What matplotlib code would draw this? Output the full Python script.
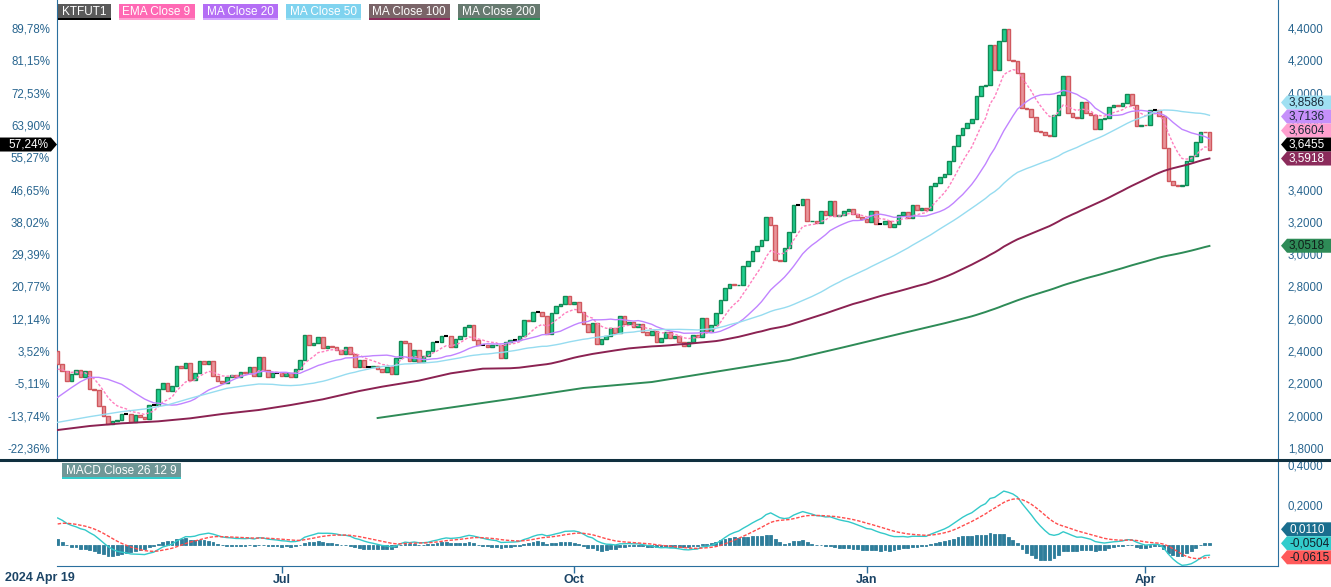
import numpy as np
import matplotlib
matplotlib.use("Agg")
import matplotlib.pyplot as plt
from matplotlib.patches import Polygon, Rectangle
from matplotlib.lines import Line2D
from matplotlib.transforms import IdentityTransform

plt.rcParams['font.family'] = ['Liberation Sans', 'DejaVu Sans']

W, H = 1331, 587

# daily closes, each candle opens at the previous close
first_open = 2.40
closes = [
    2.3185, 2.2761, 2.2142, 2.2555, 2.2803, 2.2369, 2.2741, 2.1626, 2.1564, 2.0574,
    1.9996, 1.9459, 1.9645, 1.9707, 2.0078, 2.0078, 1.9604, 2.0016, 1.9893, 1.9769,
    2.0636, 2.0636, 2.1668, 2.1998, 2.1502, 2.1812, 2.3050, 2.2927, 2.3236, 2.2184,
    2.2617, 2.3360, 2.3174, 2.3360, 2.2452, 2.2122, 2.1998, 2.2369, 2.2534, 2.2369,
    2.2679, 2.2638, 2.2989, 2.2431, 2.3608, 2.2823, 2.2369, 2.2638, 2.2638, 2.2431,
    2.2638, 2.2369, 2.2865, 2.3422, 2.4991, 2.4351, 2.4495, 2.4846, 2.4165, 2.4330,
    2.4268, 2.4062, 2.3793, 2.4268, 2.3814, 2.3030, 2.3443, 2.2989, 2.2989, 2.3071,
    2.2865, 2.2679, 2.3010, 2.2555, 2.3546, 2.4599, 2.4475, 2.3360, 2.4062, 2.3299,
    2.3670, 2.3980, 2.4558, 2.4558, 2.4908, 2.4908, 2.4227, 2.4723, 2.4908, 2.5466,
    2.5590, 2.4702, 2.4392, 2.4392, 2.4227, 2.4351, 2.4392, 2.3546, 2.4558, 2.4661,
    2.4661, 2.4908, 2.5899, 2.5837, 2.6395, 2.6395, 2.6147, 2.5053, 2.6333, 2.6766,
    2.6890, 2.7385, 2.6890, 2.7014, 2.6395, 2.5672, 2.5156, 2.5713, 2.4413, 2.4764,
    2.4929, 2.5445, 2.5135, 2.6188, 2.5651, 2.5775, 2.5466, 2.5693, 2.5156, 2.4970,
    2.5238, 2.4536, 2.4805, 2.5197, 2.4805, 2.4928, 2.4536, 2.4330, 2.4557, 2.4990,
    2.4887, 2.6022, 2.5259, 2.5589, 2.6332, 2.7137, 2.7880, 2.8169, 2.8066, 2.8107,
    2.9242, 2.9552, 3.0171, 3.0501, 3.0852, 3.2276, 3.1781, 2.9614, 2.9552, 3.0357,
    3.1348, 3.3019, 3.3019, 3.3391, 3.2029, 3.2070, 3.1946, 3.2689, 3.2441, 3.3267,
    3.2359, 3.2421, 3.2689, 3.2813, 3.2462, 3.2297, 3.2152, 3.1967, 3.2648, 3.1864,
    3.1864, 3.2029, 3.1657, 3.1843, 3.2400, 3.2586, 3.2235, 3.3040, 3.2710, 3.2834,
    3.2751, 3.4216, 3.4382, 3.4753, 3.4959, 3.5744, 3.6693, 3.7354, 3.7787, 3.8117,
    3.8344, 3.9768, 4.0408, 4.0450, 4.2926, 4.1378, 4.3174, 4.3917, 4.1998, 4.1936,
    4.1193, 3.9025, 3.8963, 3.8468, 3.7601, 3.7539, 3.7354, 3.7292, 3.8633, 3.9830,
    4.1007, 3.8716, 3.8468, 3.8406, 3.9397, 3.8716, 3.8592, 3.7725, 3.8344, 3.8406,
    3.9087, 3.9211, 3.9149, 3.9335, 3.9892, 3.9211, 3.7911, 3.7993, 3.7973, 3.8922,
    3.8922, 3.8551, 3.6549, 3.4526, 3.4278, 3.4216, 3.4278, 3.5744, 3.6053, 3.6920,
    3.7581, 3.7539, 3.6455,
]

ema9_start = 2.287
ma20_head_idx = [0, 3, 5, 7, 9, 11, 14, 17]
ma20_head = [2.1131, 2.1729, 2.2101, 2.2369, 2.2369, 2.2246, 2.1936, 2.1379]
ma50_head_idx = [0, 7, 14, 19, 24, 29, 33, 37, 41, 44, 47]
ma50_head = [1.9583, 1.9934, 2.0244, 2.0409, 2.0656, 2.1069, 2.1379, 2.1688, 2.1853, 2.1957, 2.1936]
ma100_head_idx = [0, 7, 14, 22, 29, 36, 44, 51, 58, 66, 71, 79, 86, 93]
ma100_head = [1.9108, 1.9356, 1.9521, 1.9645, 1.9831, 2.0099, 2.0347, 2.0656, 2.1007, 2.1523,
              2.1792, 2.2163, 2.2617, 2.2906]
ma200_head_idx = [70, 99, 115, 130, 145, 160, 172, 185, 194]
ma200_head = [1.9851, 2.1028, 2.1709, 2.2080, 2.2762, 2.3443, 2.4235, 2.5115, 2.5715]
ema12_start = 2.295
ema26_start = 2.160
signal_start = 0.105

price_ticks = [1.8, 2.0, 2.2, 2.4, 2.6, 2.8, 3.0, 3.2, 3.4, 3.6, 3.8, 4.0, 4.2, 4.4]
macd_ticks = [0.2, 0.4]
month_ticks = [49, 113, 177, 238]
month_labels = ['Jul', 'Oct', 'Jan', 'Apr']
start_label = '2024 Apr 19'

legend_labels = ['KTFUT1', 'EMA Close 9', 'MA Close 20', 'MA Close 50', 'MA Close 100', 'MA Close 200']
legend_box = ['#5a5a5a', '#ff69b4', '#b46ef5', '#7fd3ef', '#7a6468', '#677a70']
legend_under = ['#000000', '#ff9fd0', '#d4a6ff', '#a6e4f5', '#8b2b5b', '#2e8b57']

price_tag_values = [3.8586, 3.7136, 3.6604, 3.6455, 3.5918, 3.0518]
price_tag_bg = ['#9fe0f2', '#c690fa', '#ff9fcf', '#000000', '#8b2b5b', '#2e8b57']
price_tag_fg = ['#1a2a3a', '#1a2a3a', '#1a2a3a', 'white', 'white', '#10201a']
macd_tag_values = [0.0110, -0.0504, -0.0615]
macd_tag_bg = ['#1a6e8e', '#33cccc', '#ff5a5a']
macd_tag_fg = ['white', '#10202a', '#10202a']

AXIS_BLUE = '#2b6f9e'
LABEL_BLUE = '#28658f'
UP_FILL, UP_EDGE = '#1fcf8f', '#128a56'
DN_FILL, DN_EDGE = '#e8959a', '#d0585e'


def ema(values, span, start):
    alpha = 2 / (span + 1)
    out = [start]
    for v in values[1:]:
        out.append(out[-1] + alpha * (v - out[-1]))
    return np.array(out)


def sma_line(window, head_idx, head_vals):
    c = np.array(closes)
    tail_idx = list(range(window - 1, len(c)))
    tail = [c[i - window + 1:i + 1].mean() for i in tail_idx]
    return head_idx + tail_idx, head_vals + tail


def pct_label(p):
    return ('%.2f%%' % ((p / closes[0] - 1) * 100)).replace('.', ',')


def num_label(v):
    return ('%.4f' % v).replace('.', ',')


n = len(closes)
x = np.arange(n)
c = np.array(closes)
o = np.array([first_open] + closes[:-1])

fig = plt.figure(figsize=(W / 100, H / 100), dpi=100)
ax = fig.add_axes([57 / W, 1 - 460 / H, (1278 - 57) / W, 460 / H])
axm = fig.add_axes([57 / W, 1 - 566 / H, (1278 - 57) / W, 106 / H], sharex=ax)

# candles
up = c > o
dn = c < o
flat = c == o
ax.bar(x[up], (c - o)[up], bottom=o[up], width=0.78, color=UP_FILL, edgecolor=UP_EDGE, linewidth=1.0, zorder=3)
ax.bar(x[dn], (c - o)[dn], bottom=o[dn], width=0.78, color=DN_FILL, edgecolor=DN_EDGE, linewidth=1.0, zorder=3)
ax.hlines(c[flat], x[flat] - 0.45, x[flat] + 0.45, color='black', linewidth=1.5, zorder=3)

# moving averages
ema9 = ema(closes, 9, ema9_start)
ax.plot(x, ema9, color='#ff7fbf', linewidth=1.0, linestyle=(0, (2, 1.3)), zorder=4)
mx, my = sma_line(20, ma20_head_idx, ma20_head)
ax.plot(mx, my, color='#c184ff', linewidth=1.0, zorder=4)
mx, my = sma_line(50, ma50_head_idx, ma50_head)
ax.plot(mx, my, color='#96dcf0', linewidth=1.0, zorder=4)
mx, my = sma_line(100, ma100_head_idx, ma100_head)
ax.plot(mx, my, color='#8b2252', linewidth=1.4, zorder=4)
mx, my = sma_line(200, ma200_head_idx, ma200_head)
ax.plot(mx, my, color='#2e8b57', linewidth=1.4, zorder=4)

ax.set_xlim(-0.15, 267)
ax.set_ylim(4.4 - 432 / 161.5, 4.4 + 28 / 161.5)
ax.set_yticks(price_ticks)
ax.set_yticklabels([num_label(p) for p in price_ticks])
ax.yaxis.tick_right()
ax.tick_params(axis='y', length=0, pad=7, labelsize=8.3, labelcolor=LABEL_BLUE)
ax.tick_params(axis='x', bottom=False, labelbottom=False)
sec = ax.secondary_yaxis('left')
sec.set_yticks(price_ticks)
sec.set_yticklabels([pct_label(p) for p in price_ticks])
sec.tick_params(length=0, pad=5, labelsize=8.3, labelcolor=LABEL_BLUE)
sec.spines['left'].set_color(AXIS_BLUE)
for s in ['top', 'bottom', 'left']:
    ax.spines[s].set_visible(False)
ax.spines['right'].set_color(AXIS_BLUE)

# MACD panel
ema12 = ema(closes, 12, ema12_start)
ema26 = ema(closes, 26, ema26_start)
macd = ema12 - ema26
signal = ema(macd, 9, signal_start)
hist = macd - signal
axm.bar(x, hist, width=0.62, color='#2e7d9a', edgecolor='#2e7d9a', linewidth=0.6, zorder=2)
axm.plot(x, macd, color='#33c9c9', linewidth=1.0, zorder=3)
axm.plot(x, signal, color='#ff4d4d', linewidth=1.0, linestyle=(0, (2.5, 1.2)), zorder=3)
axm.set_ylim(-0.105, 0.425)
axm.set_yticks(macd_ticks)
axm.set_yticklabels([num_label(v) for v in macd_ticks])
axm.yaxis.tick_right()
axm.tick_params(axis='y', length=0, pad=7, labelsize=8.3, labelcolor=LABEL_BLUE)
axm.set_xticks(month_ticks)
axm.set_xticklabels(month_labels)
axm.tick_params(axis='x', length=5, width=1, color=AXIS_BLUE, pad=1, labelsize=9, labelcolor='#1b4466')
for lab in axm.get_xticklabels():
    lab.set_fontweight('bold')
for s in ['top', 'left']:
    axm.spines[s].set_visible(False)
axm.spines['right'].set_color(AXIS_BLUE)
axm.spines['bottom'].set_color(AXIS_BLUE)

fig.text(5 / W, 1 - 578 / H, start_label, ha='left', va='center', fontsize=9,
         fontweight='bold', color='#1b4466')

# separator between the panels
fig.add_artist(Line2D([0, 1], [1 - 460 / H, 1 - 460 / H], transform=fig.transFigure,
                      color='#10303f', linewidth=2.2, zorder=6))

renderer = fig.canvas.get_renderer()


def legend_row(labels, boxes, unders, x0, ytop):
    xpos = x0
    for lab, bc, uc in zip(labels, boxes, unders):
        t = fig.text(xpos + 4, H - ytop - 8, lab, transform=IdentityTransform(), color='white',
                     fontsize=8.5, ha='left', va='center', zorder=8)
        w = t.get_window_extent(renderer).width + 8
        fig.add_artist(Rectangle((xpos, H - ytop - 16), w, 16, transform=IdentityTransform(),
                                 fc=bc, ec='none', zorder=7))
        fig.add_artist(Rectangle((xpos, H - ytop - 16), w, 2.5, transform=IdentityTransform(),
                                 fc=uc, ec='none', zorder=7))
        xpos += w + 8


legend_row(legend_labels, legend_box, legend_under, 58, 4)
legend_row(['MACD Close 26 12 9'], ['#6f9797'], ['#33cccc'], 62, 463)


def tag(x_tip, x_end, yc, text, bg, fg, ha):
    d = 6 if x_end > x_tip else -6
    pts = [(x_tip, yc), (x_tip + d, yc + 7), (x_end, yc + 7), (x_end, yc - 7), (x_tip + d, yc - 7)]
    fig.add_artist(Polygon(pts, closed=True, transform=IdentityTransform(), fc=bg, ec='none', zorder=7))
    tx = x_tip + d + 2 if ha == 'left' else x_tip + d - 3
    fig.text(tx, yc, text, transform=IdentityTransform(), color=fg, fontsize=8.5,
             ha=ha, va='center', zorder=8)


def stacked(axis, values):
    ys = {v: axis.transData.transform((0, v))[1] for v in values}
    out = {}
    prev = None
    for v in sorted(values):
        y = ys[v] if prev is None else max(ys[v], prev + 14)
        out[v] = y
        prev = y
    return out


pos = stacked(ax, price_tag_values)
for v, bg, fg in zip(price_tag_values, price_tag_bg, price_tag_fg):
    tag(1281, W, pos[v], num_label(v), bg, fg, 'left')
tag(57, 0, pos[closes[-1]], pct_label(closes[-1]), '#000000', 'white', 'right')

pos = stacked(axm, macd_tag_values)
for v, bg, fg in zip(macd_tag_values, macd_tag_bg, macd_tag_fg):
    tag(1281, W, pos[v], num_label(v), bg, fg, 'left')

fig.savefig('out.png', dpi=100, facecolor='white')
